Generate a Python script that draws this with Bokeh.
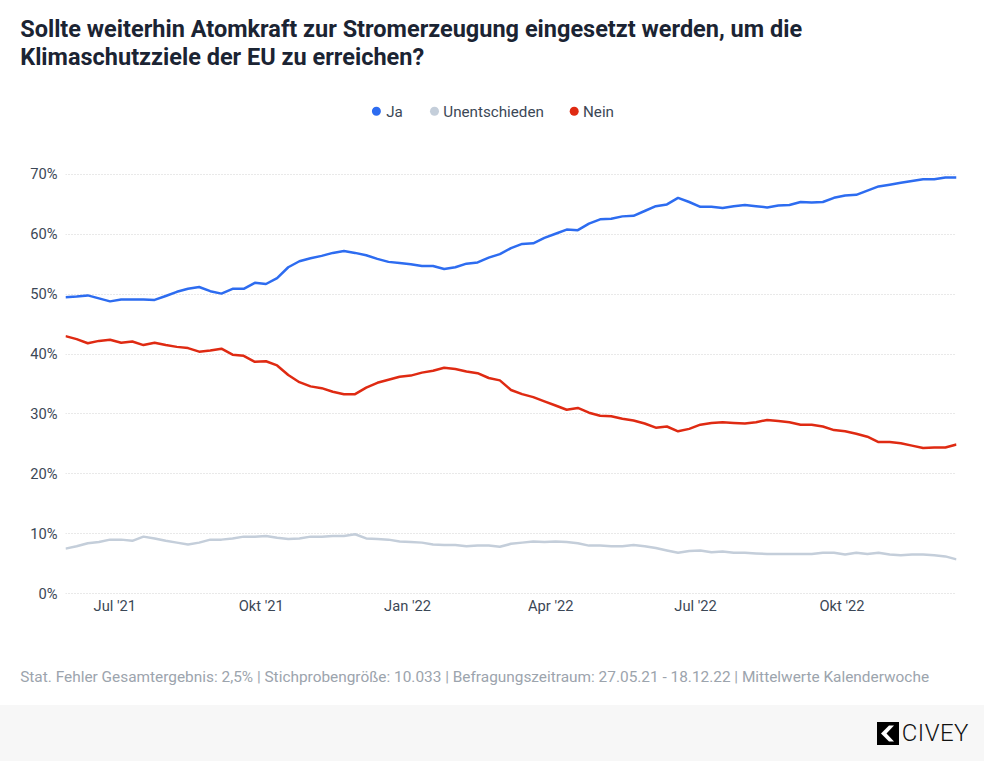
import pandas as pd
from bokeh.plotting import figure
from bokeh.models import (Range1d, FixedTicker, PrintfTickFormatter, CustomJSTickFormatter,
                          Div, ColumnDataSource)
from bokeh.layouts import column
from bokeh.embed import file_html
from bokeh.resources import INLINE
from bokeh.core.properties import value

# ---------------- data ----------------
first_week = "2021-05-31"   # Monday of first calendar week (Befragung ab 27.05.21)
n_weeks = 81
dates = pd.date_range(first_week, periods=n_weeks, freq="7D")

ja = [49.5, 49.6, 49.8, 49.3, 48.8, 49.1, 49.1, 49.1, 49.05, 49.7, 50.4, 50.9, 51.2, 50.5, 50.1,
      50.9, 50.9, 51.9, 51.7, 52.7, 54.5, 55.5, 56.0, 56.4, 56.9, 57.2, 56.9, 56.5, 55.9, 55.4,
      55.2, 55.0, 54.7, 54.7, 54.2, 54.5, 55.1, 55.3, 56.1, 56.7, 57.7, 58.4, 58.5, 59.4, 60.1,
      60.8, 60.7, 61.8, 62.5, 62.6, 63.0, 63.1, 63.9, 64.7, 65.0, 66.1, 65.4, 64.6, 64.6, 64.4,
      64.7, 64.9, 64.7, 64.5, 64.8, 64.9, 65.4, 65.3, 65.4, 66.1, 66.5, 66.6, 67.3, 68.0, 68.3,
      68.6, 68.9, 69.2, 69.2, 69.5, 69.5]
nein = [43.0, 42.5, 41.8, 42.2, 42.4, 41.9, 42.1, 41.5, 41.9, 41.5, 41.2, 41.0, 40.4, 40.6, 40.9,
        39.9, 39.7, 38.7, 38.8, 38.1, 36.5, 35.3, 34.6, 34.3, 33.7, 33.3, 33.3, 34.4, 35.2, 35.7,
        36.2, 36.4, 36.9, 37.2, 37.7, 37.5, 37.1, 36.8, 36.0, 35.6, 34.0, 33.3, 32.8, 32.1, 31.4,
        30.7, 31.0, 30.2, 29.7, 29.6, 29.2, 28.9, 28.4, 27.7, 27.9, 27.1, 27.5, 28.2, 28.5, 28.6,
        28.5, 28.4, 28.6, 29.0, 28.8, 28.6, 28.2, 28.2, 27.9, 27.3, 27.1, 26.7, 26.2, 25.3, 25.3,
        25.1, 24.7, 24.3, 24.4, 24.4, 24.9]
unentschieden = [7.5, 7.9, 8.4, 8.6, 9.0, 9.0, 8.8, 9.5, 9.2, 8.8, 8.5, 8.2, 8.5, 9.0, 9.0,
                 9.2, 9.5, 9.5, 9.6, 9.3, 9.1, 9.2, 9.5, 9.5, 9.6, 9.6, 9.9, 9.2, 9.1, 9.0,
                 8.7, 8.6, 8.5, 8.2, 8.1, 8.1, 7.9, 8.0, 8.0, 7.8, 8.3, 8.5, 8.7, 8.6, 8.7,
                 8.6, 8.4, 8.0, 8.0, 7.9, 7.9, 8.1, 7.9, 7.6, 7.2, 6.8, 7.1, 7.2, 6.9, 7.0,
                 6.8, 6.8, 6.7, 6.6, 6.6, 6.6, 6.6, 6.6, 6.8, 6.8, 6.5, 6.8, 6.6, 6.8, 6.5,
                 6.4, 6.5, 6.5, 6.4, 6.2, 5.7]

series_names = ["Ja", "Unentschieden", "Nein"]
series_colors = ["#2d6cf0", "#c4ceda", "#df2a12"]

tick_dates = ["2021-07-01", "2021-10-01", "2022-01-01", "2022-04-01", "2022-07-01", "2022-10-01"]
tick_labels = ["Jul '21", "Okt '21", "Jan '22", "Apr '22", "Jul '22", "Okt '22"]
y_ticks = [0, 10, 20, 30, 40, 50, 60, 70]

title_lines = ["Sollte weiterhin Atomkraft zur Stromerzeugung eingesetzt werden, um die",
               "Klimaschutzziele der EU zu erreichen?"]
footer = ("Stat. Fehler Gesamtergebnis: 2,5% | Stichprobengröße: 10.033 | "
          "Befragungszeitraum: 27.05.21 - 18.12.22 | Mittelwerte Kalenderwoche")

# ---------------- layout constants (pixels) ----------------
W = 984
HEAD_H = 140          # header strip: title + legend
MAIN_H = 500          # chart
FOOT_H = 65           # footnote strip
BAND_H = 56           # grey logo band
FL, FR = 65, 956
FT = 22               # frame top inside main figure
Y0, Y1 = -0.5, 72.0
FH = 434

axis_col = "#3b4756"
title_col = "#1b2433"
foot_col = "#9ca4ad"


def strip(height):
    f = figure(width=W, height=height, output_backend="svg", toolbar_location=None,
               x_range=Range1d(0, W), y_range=Range1d(height, 0),
               x_axis_location=None, y_axis_location=None,
               min_border=0, min_border_left=0, min_border_right=0,
               min_border_top=0, min_border_bottom=0)
    f.frame_align = False
    f.outline_line_color = None
    f.grid.visible = False
    f.background_fill_color = "white"
    f.border_fill_color = "white"
    return f


# ---------------- header ----------------
head = strip(HEAD_H)
head.text(x=[19.7, 19.7], y=[28.4, 56.8], text=title_lines,
          text_font=value("Roboto"), text_font_size="23.5px", text_font_style="bold",
          text_color=title_col, text_baseline="alphabetic", text_align="left")
leg_dot_x = [375.9, 434.0, 573.7]
leg_txt_x = [385.7, 442.8, 582.5]
head.scatter(x=leg_dot_x, y=[110.7] * 3, size=9, color=series_colors, line_color=None)
head.text(x=leg_txt_x, y=[111.0] * 3, text=series_names,
          text_font=value("Roboto"), text_font_size="15.2px",
          text_color=axis_col, text_baseline="alphabetic", text_align="left")

# ---------------- main chart ----------------
x_ms = [d.value / 1e6 for d in dates]
x0, x1 = x_ms[0], x_ms[-1]
tick_ms = [pd.Timestamp(t).value / 1e6 for t in tick_dates]

src = ColumnDataSource(dict(x=x_ms, ja=ja, nein=nein, un=unentschieden))

p = figure(width=W, height=MAIN_H, output_backend="svg", toolbar_location=None,
           x_range=Range1d(x0, x1), y_range=Range1d(Y0, Y1),
           min_border_left=FL, min_border_right=W - FR, min_border_top=FT,
           min_border_bottom=MAIN_H - FT - FH)
p.frame_align = False
p.outline_line_color = None
p.background_fill_color = "white"
p.border_fill_color = "white"

p.line("x", "un", source=src, line_width=2.5, color=series_colors[1])
p.line("x", "nein", source=src, line_width=2.5, color=series_colors[2])
p.line("x", "ja", source=src, line_width=2.5, color=series_colors[0])

p.yaxis.ticker = FixedTicker(ticks=y_ticks)
p.yaxis.formatter = PrintfTickFormatter(format="%d%%")
p.xaxis.ticker = FixedTicker(ticks=tick_ms)
p.xaxis.formatter = CustomJSTickFormatter(args=dict(tvals=tick_ms, tlabels=tick_labels), code="""
    for (let i = 0; i < tvals.length; i++) {
        if (Math.abs(tvals[i] - tick) < 1e6) { return tlabels[i]; }
    }
    return "";
""")
for ax in (p.xaxis, p.yaxis):
    ax.axis_line_color = None
    ax.major_tick_line_color = None
    ax.minor_tick_line_color = None
    ax.major_tick_out = 0
    ax.major_tick_in = 0
    ax.minor_tick_out = 0
    ax.major_label_text_font = "Roboto"
    ax.major_label_text_font_size = "14.7px"
    ax.major_label_text_color = axis_col
p.yaxis.major_label_standoff = 8
p.xaxis.major_label_standoff = 0

p.xgrid.visible = False
p.ygrid.grid_line_color = "#d3d3d3"
p.ygrid.grid_line_dash = "1 2"
p.ygrid.grid_line_width = 1

# ---------------- footer ----------------
foot = strip(FOOT_H)
foot.text(x=[19.7], y=[36.8], text=[footer],
          text_font=value("Roboto"), text_font_size="15.4px",
          text_color=foot_col, text_baseline="alphabetic", text_align="left")

logo_html = """
<div style="display:flex;align-items:center;justify-content:flex-end;height:56px;width:984px;
            padding-right:15px;box-sizing:border-box;background:#f7f7f7;">
  <svg width="22" height="23" viewBox="0 0 22 23" xmlns="http://www.w3.org/2000/svg">
    <rect width="22" height="23" fill="#000"/>
    <path d="M12 3.5 L4 11.5 L12 19.5 L17 19.5 L9.5 11.5 L17 3.5 Z" fill="#fff"/>
  </svg>
  <span style="font-family:Roboto;font-size:24px;font-weight:300;color:#111;margin-left:3px;
               letter-spacing:0.5px;line-height:24px;">CIVEY</span>
</div>
"""
band = Div(text=logo_html, width=W, height=BAND_H, margin=0, styles={"background-color": "#f7f7f7"})

layout = column(head, p, foot, band, spacing=0)
open("out.html", "w").write(file_html(layout, INLINE))
